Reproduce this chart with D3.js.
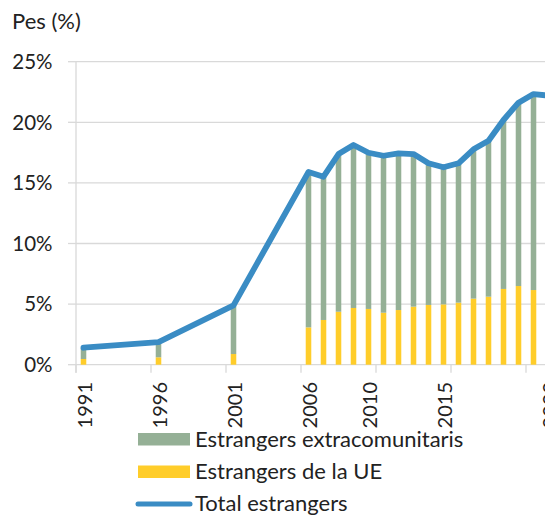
<!DOCTYPE html>
<html><head><meta charset="utf-8">
<script src="https://cdn.jsdelivr.net/npm/d3@7"></script>
<style>body{margin:0;background:#fff}svg{display:block}text{font-family:Lato,"Open Sans",sans-serif;fill:#222}</style>
</head><body><svg id="c" width="545" height="516"></svg>
<script>
const years = [1991,1996,2001,2006,2007,2008,2009,2010,2011,2012,2013,2014,2015,2016,2017,2018,2019,2020,2021,2022];
const ueValues = [0.47,0.61,0.88,3.08,3.69,4.37,4.68,4.60,4.29,4.51,4.79,4.93,4.98,5.12,5.45,5.61,6.25,6.49,6.16,6.10];
const extraValues = [0.93,1.26,4.02,12.82,11.81,13.01,13.45,12.89,12.95,12.93,12.59,11.69,11.31,11.50,12.32,12.87,13.94,15.13,16.17,16.10];
const totalValues = [1.40,1.87,4.90,15.90,15.51,17.38,18.13,17.49,17.24,17.44,17.38,16.62,16.29,16.62,17.77,18.48,20.19,21.62,22.33,22.20];
const xTickLabels = [1991,1996,2001,2006,2010,2015,2022];
const yTicks = [0,5,10,15,20,25];
const seriesNames = ["Estrangers extracomunitaris","Estrangers de la UE","Total estrangers"];
const colors = {extra:"#95B096", ue:"#FFCD2A", total:"#3A8CC4", grid:"#D9D9D9"};

const svg = d3.select("#c");
const x = d3.scaleLinear().domain([1990.5, 2022.5]).range([76, 556]);
const y = d3.scaleLinear().domain([0, 25]).range([364.7, 61.7]);
const step = x(1991) - x(1990);
const bw = step * 0.37;

// gridlines
svg.append("g").selectAll("line").data(yTicks).join("line")
  .attr("x1", 76).attr("x2", 556).attr("y1", d => y(d)).attr("y2", d => y(d))
  .attr("stroke", colors.grid).attr("stroke-width", 1.3);
// y axis line + ticks
svg.append("line").attr("x1",76).attr("x2",76).attr("y1",y(25)).attr("y2",y(0)+8).attr("stroke",colors.grid).attr("stroke-width",1.3);
svg.append("g").selectAll("line").data(yTicks).join("line")
  .attr("x1",68).attr("x2",76).attr("y1",d=>y(d)).attr("y2",d=>y(d)).attr("stroke",colors.grid).attr("stroke-width",1.3);
svg.append("g").selectAll("text").data(yTicks).join("text")
  .attr("x",52.5).attr("y",d=>y(d)).attr("dy","0.36em").attr("text-anchor","end")
  .attr("font-size",20.5).text(d=>d+"%");
// x ticks
const xt = d3.range(1990.5, 2023, 5);
svg.append("g").selectAll("line").data(xt).join("line")
  .attr("x1",d=>x(d)).attr("x2",d=>x(d)).attr("y1",y(0)).attr("y2",y(0)+8)
  .attr("stroke",colors.grid).attr("stroke-width",1.3);
svg.append("g").selectAll("text").data(xTickLabels).join("text")
  .attr("transform", d => `translate(${x(d)+8},382) rotate(-90)`)
  .attr("text-anchor","end").attr("font-size",20).text(d=>d);

// bars
const g = svg.append("g");
g.selectAll("rect.ue").data(years).join("rect").attr("class","ue")
  .attr("x",(d)=>x(d)-bw/2).attr("width",bw)
  .attr("y",(d,i)=>y(ueValues[i])).attr("height",(d,i)=>y(0)-y(ueValues[i]))
  .attr("fill",colors.ue);
g.selectAll("rect.ex").data(years).join("rect").attr("class","ex")
  .attr("x",(d)=>x(d)-bw/2).attr("width",bw)
  .attr("y",(d,i)=>y(ueValues[i]+extraValues[i])).attr("height",(d,i)=>y(ueValues[i])-y(ueValues[i]+extraValues[i]))
  .attr("fill",colors.extra);
// line
const line = d3.line().x((d,i)=>x(years[i])).y(d=>y(d));
svg.append("path").datum(totalValues).attr("d",line).attr("fill","none")
  .attr("stroke",colors.total).attr("stroke-width",5.8).attr("stroke-linejoin","round").attr("stroke-linecap","round");

// title
svg.append("text").attr("x",12).attr("y",29).attr("font-size",22).text("Pes (%)");

// legend
const lg = svg.append("g");
lg.append("rect").attr("x",138).attr("y",433).attr("width",52).attr("height",12.5).attr("fill",colors.extra);
lg.append("rect").attr("x",138).attr("y",465.5).attr("width",52).attr("height",12.5).attr("fill",colors.ue);
lg.append("line").attr("x1",138).attr("x2",190).attr("y1",504).attr("y2",504).attr("stroke",colors.total).attr("stroke-width",5).attr("stroke-linecap","round");
[439,471.5,503.5].forEach((yy,i)=>{
  lg.append("text").attr("x",195).attr("y",yy).attr("dy","0.36em").attr("font-size",22).text(seriesNames[i]);
});
</script></body></html>
